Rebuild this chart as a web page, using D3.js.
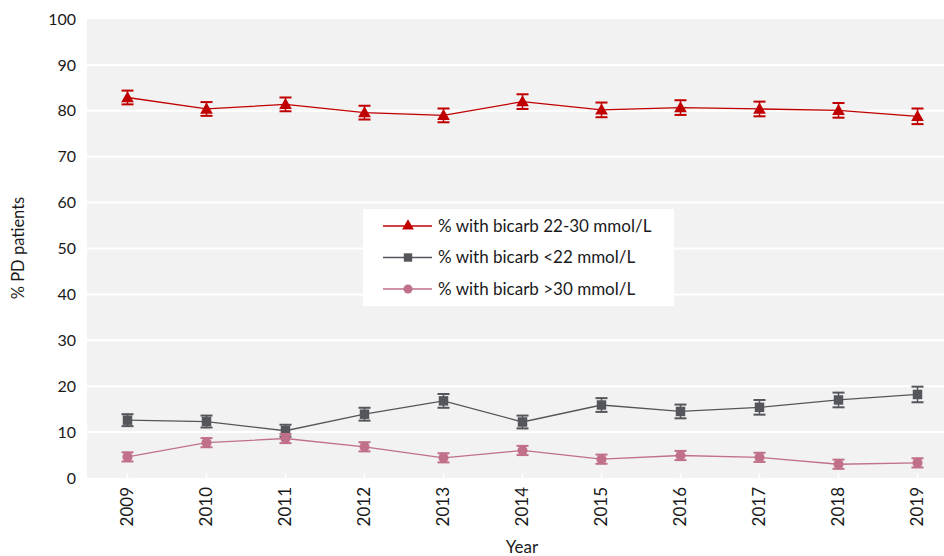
<!DOCTYPE html>
<html><head><meta charset="utf-8">
<script src="https://cdn.jsdelivr.net/npm/d3@7"></script>
<style>body{margin:0;background:#fff}svg{display:block;font-family:Lato,"Open Sans",sans-serif}</style>
</head><body><svg id="c" width="944" height="556"></svg>
<script>
const years = ["2009","2010","2011","2012","2013","2014","2015","2016","2017","2018","2019"];
const normal = [82.9,80.4,81.4,79.6,79.0,82.0,80.2,80.7,80.4,80.1,78.8];
const normalErr = [1.5,1.5,1.5,1.5,1.5,1.6,1.6,1.6,1.6,1.6,1.7];
const low = [12.6,12.3,10.3,13.9,16.8,12.2,15.9,14.5,15.4,17.0,18.2];
const lowErr = [1.3,1.3,1.3,1.4,1.5,1.4,1.5,1.5,1.6,1.6,1.7];
const high = [4.6,7.7,8.6,6.8,4.4,6.0,4.1,4.9,4.5,3.0,3.3];
const highErr = [1.0,1.0,1.0,1.0,1.0,1.0,1.0,1.0,1.0,1.0,1.0];
const yTicks = [0,10,20,30,40,50,60,70,80,90,100];
const seriesNames = ["% with bicarb 22-30 mmol/L","% with bicarb <22 mmol/L","% with bicarb >30 mmol/L"];

const series = [
  {name: seriesNames[0], values: normal, err: normalErr, color: "#c00000", shape: d3.symbolTriangle},
  {name: seriesNames[1], values: low, err: lowErr, color: "#54565b", shape: d3.symbolSquare},
  {name: seriesNames[2], values: high, err: highErr, color: "#c07088", shape: d3.symbolCircle}
];

const svg = d3.select("#c");
const plot = {left: 87, top: 19, right: 944, bottom: 478};
const x = d3.scaleBand().domain(years).range([88, 957]).padding(0);
const cx = d => x(d) + x.bandwidth()/2;
const y = d3.scaleLinear().domain([0,100]).range([plot.bottom, plot.top]);

svg.append("rect").attr("x", plot.left).attr("y", plot.top)
  .attr("width", plot.right - plot.left).attr("height", plot.bottom - plot.top).attr("fill", "#f2f2f2");

// grid
svg.append("g").selectAll("line").data(yTicks.filter(t => t > 0 && t < 100)).join("line")
  .attr("x1", plot.left).attr("x2", plot.right)
  .attr("y1", d => y(d)).attr("y2", d => y(d))
  .attr("stroke", "#fff").attr("stroke-width", 2);

// x ticks (white)
svg.append("g").selectAll("line").data(years).join("line")
  .attr("x1", d => cx(d)).attr("x2", d => cx(d))
  .attr("y1", plot.bottom - 5).attr("y2", plot.bottom)
  .attr("stroke", "#fff").attr("stroke-width", 1.5);

// y labels
svg.append("g").selectAll("text").data(yTicks).join("text")
  .attr("x", 76).attr("y", d => y(d)).attr("dy", "0.35em")
  .attr("text-anchor", "end").attr("font-size", 16).attr("fill", "#1a1a1a")
  .text(d => d);

// x labels
svg.append("g").selectAll("text").data(years).join("text")
  .attr("transform", d => `translate(${cx(d)},${plot.bottom + 9}) rotate(-90)`)
  .attr("dy", "0.35em").attr("text-anchor", "end").attr("font-size", 17).attr("fill", "#1a1a1a")
  .text(d => d);

svg.append("text").attr("x", 522).attr("y", 553).attr("text-anchor", "middle")
  .attr("font-size", 17).attr("fill", "#1a1a1a").text("Year");
svg.append("text").attr("transform", "translate(24,248) rotate(-90)")
  .attr("text-anchor", "middle").attr("font-size", 16.5).attr("fill", "#1a1a1a").text("% PD patients");

const line = d3.line().x((d,i) => cx(years[i])).y(d => y(d));

series.forEach(s => {
  const g = svg.append("g");
  g.append("path").attr("d", line(s.values)).attr("fill", "none")
    .attr("stroke", s.color).attr("stroke-width", 1.3);
  const eb = g.selectAll("g.eb").data(s.values).join("g");
  eb.append("line").attr("x1", (d,i) => cx(years[i])).attr("x2", (d,i) => cx(years[i]))
    .attr("y1", (d,i) => y(d + s.err[i])).attr("y2", (d,i) => y(d - s.err[i]))
    .attr("stroke", s.color).attr("stroke-width", 1.5);
  [1,-1].forEach(sg => {
    eb.append("line").attr("x1", (d,i) => cx(years[i]) - 6).attr("x2", (d,i) => cx(years[i]) + 6)
      .attr("y1", (d,i) => y(d + sg*s.err[i])).attr("y2", (d,i) => y(d + sg*s.err[i]))
      .attr("stroke", s.color).attr("stroke-width", 2);
  });
  const sz = s.shape === d3.symbolTriangle ? 70 : (s.shape === d3.symbolSquare ? 90 : 80);
  g.selectAll("path.m").data(s.values).join("path").attr("class","m")
    .attr("d", d3.symbol().type(s.shape).size(sz))
    .attr("transform", (d,i) => `translate(${cx(years[i])},${y(d) + (s.shape === d3.symbolTriangle ? 1 : 0)})`)
    .attr("fill", s.color);
});

// legend
const lg = svg.append("g");
lg.append("rect").attr("x", 363).attr("y", 209).attr("width", 311).attr("height", 97).attr("fill", "#fff");
series.forEach((s, i) => {
  const ly = 226 + i * 31.5;
  lg.append("line").attr("x1", 383).attr("x2", 432).attr("y1", ly).attr("y2", ly)
    .attr("stroke", s.color).attr("stroke-width", 1.3);
  const sz = s.shape === d3.symbolTriangle ? 60 : (s.shape === d3.symbolSquare ? 70 : 65);
  lg.append("path").attr("d", d3.symbol().type(s.shape).size(sz)())
    .attr("transform", `translate(408,${ly})`).attr("fill", s.color);
  lg.append("text").attr("x", 438).attr("y", ly).attr("dy", "0.35em")
    .attr("font-size", 17).attr("fill", "#1a1a1a").text(s.name);
});
</script></body></html>
